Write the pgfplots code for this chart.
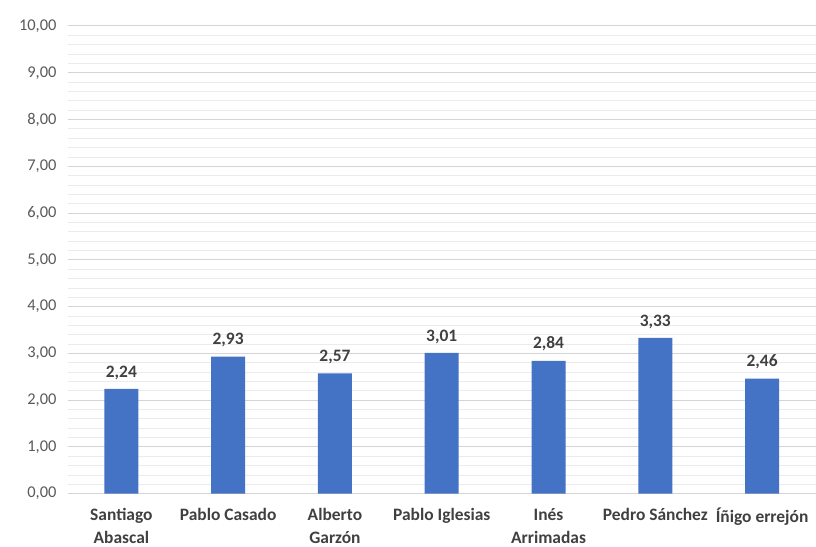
\documentclass[border=0pt]{standalone}
\usepackage{fontspec}
\setmainfont{Carlito}
\usepackage{pgfplots}
\pgfplotsset{compat=1.18}
\definecolor{barblue}{HTML}{4472C4}
\definecolor{ticktxt}{HTML}{595959}
\definecolor{labtxt}{HTML}{404040}
\definecolor{majgrid}{HTML}{D4D4D4}
\definecolor{mingrid}{HTML}{EBEBEB}
\begin{document}
\begin{tikzpicture}
\begin{axis}[
  at={(0,0)}, anchor=south west,
  scale only axis, width=748bp, height=468bp,
  xmin=-0.5, xmax=6.5, ymin=0, ymax=10,
  axis line style={draw=none},
  major tick length=0pt, minor tick length=0pt,
  xtick=data,
  xticklabels={{Santiago\\Abascal},{Pablo Casado},{Alberto\\Garzón},{Pablo Iglesias},{Inés\\Arrimadas},{Pedro Sánchez},{Íñigo errejón}},
  xticklabel style={align=center, font=\fontsize{17.5}{23}\selectfont\bfseries, text=labtxt, yshift=-11bp},
  ytick={0,1,...,10},
  minor y tick num=4,
  ymajorgrids, yminorgrids,
  major grid style={majgrid, line width=1pt},
  minor grid style={mingrid, line width=0.8pt},
  yticklabel style={font=\fontsize{16.5}{20}\selectfont, text=ticktxt, xshift=-8bp},
  /pgf/number format/.cd, assume math mode=true, fixed, fixed zerofill, precision=2, use comma,
  /pgfplots/.cd,
  nodes near coords,
  every node near coord/.append style={font=\fontsize{17.5}{20}\selectfont\bfseries, text=labtxt, yshift=6bp},
  clip=false,
]
\addplot[ybar, bar width=34bp, fill=barblue, draw=none] coordinates {
(0,2.24) (1,2.93) (2,2.57) (3,3.01) (4,2.84) (5,3.33) (6,2.46)
};
\end{axis}
\useasboundingbox (-68bp,-51bp) rectangle (748bp,494bp);
\end{tikzpicture}
\end{document}
